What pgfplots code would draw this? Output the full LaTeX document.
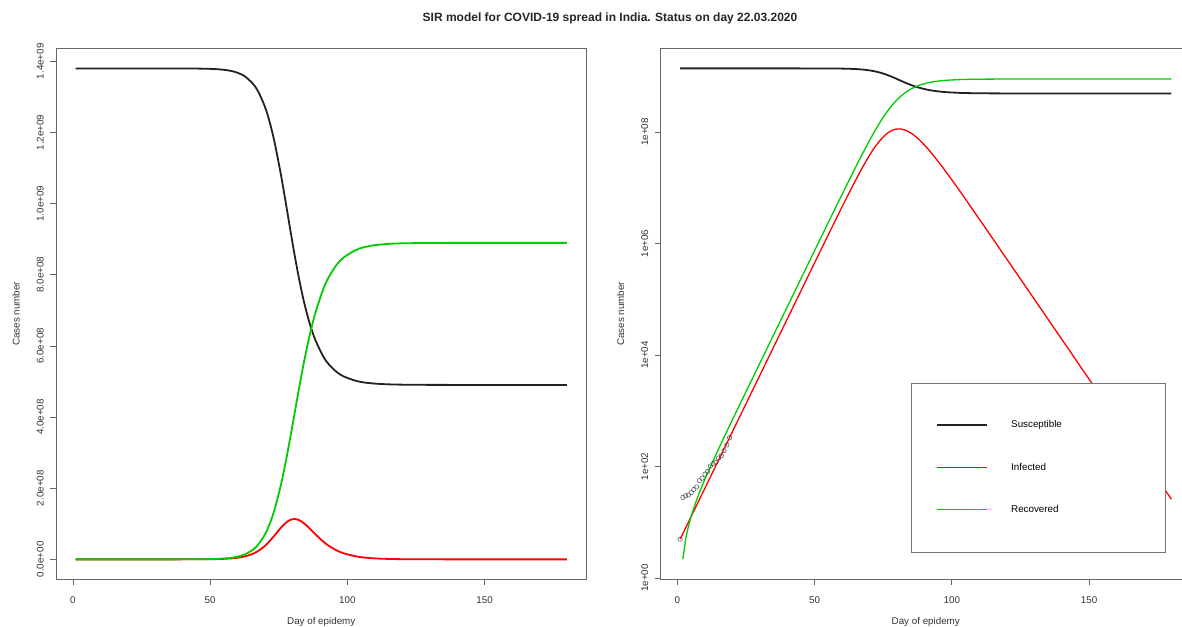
\documentclass[border=0pt]{standalone}
\usepackage{pgfplots}
\pgfplotsset{compat=1.18}
\usepackage{pgfplotstable}
\usepackage{fontspec}
\setmainfont{Liberation Sans}
\definecolor{rgreen}{HTML}{00CD00}
\definecolor{rred}{HTML}{FF0000}
\definecolor{rblack}{HTML}{222222}
\pgfplotstableread{
t S I R
1 1.38e9 5 0
2 1.38e9 6.31 2.17
3 1.38e9 7.97 4.91
4 1.38e9 10.06 8.36
5 1.38e9 12.70 12.72
7 1.38e9 20.22 25.17
10 1.38e9 40.68 58.98
15 1.38e9 130.3 207.1
20 1.38e9 417.6 682.0
25 1.37999e9 1338 2203
30 1.37999e9 4287 7078
35 1.37996e9 13731 22689
40 1.37988e9 43995 72716
45 1.37963e9 1.4095e5 2.3298e5
50 1.37880e9 4.5155e5 7.4640e5
52.64 1.37779e9 8.331e5 1.38e6
55 1.37617e9 1.4416e6 2.391e6
57.38 1.37337e9 2.489e6 4.14e6
59.59 1.36897e9 4.130e6 6.9e6
62.61 1.35803e9 8.172e6 1.38e7
65.68 1.33641e9 1.5995e7 2.76e7
67.52 1.31513e9 2.347e7 4.14e7
69.91 1.27358e9 3.742e7 6.9e7
71.56 1.23334e9 5.006e7 9.66e7
73.41 1.17537e9 6.663e7 1.38e8
75.72 1.08474e9 8.826e7 2.07e8
77.60 1.00108e9 1.0292e8 2.76e8
79.27 9.2387e8 1.1113e8 3.45e8
80.86 8.5262e8 1.1338e8 4.14e8
82.46 7.8685e8 1.1015e8 4.83e8
84.14 7.2621e8 1.0179e8 5.52e8
86.02 6.7019e8 8.881e7 6.21e8
88.25 6.1850e8 7.150e7 6.90e8
91.20 5.7081e8 5.019e7 7.59e8
93.24 5.4836e8 3.814e7 7.935e8
96.10 5.2678e8 2.522e7 8.28e8
98.68 5.1427e8 1.703e7 8.487e8
103.05 5.0204e8 8.556e6 8.694e8
106 4.974e8 5.28e6 8.773e8
110 4.941e8 2.74e6 8.832e8
115 4.920e8 1.204e6 8.868e8
120 4.911e8 5.28e5 8.884e8
130 4.905e8 1.013e5 8.894e8
140 4.904e8 1.94e4 8.896e8
150 4.904e8 3710 8.896e8
160 4.904e8 710 8.896e8
170 4.904e8 136 8.896e8
180 4.904e8 26.0 8.896e8
}\model
\pgfplotstableread{
t C
1 5
2 28
3 30
4 31
5 34
6 39
7 43
8 56
9 62
10 73
11 82
12 102
13 113
14 119
15 142
16 156
17 194
18 244
19 330
}\obs
\pgfplotsset{
  rstyle/.style={
    scale only axis, width=530.5pt, height=530.2pt,
    xmin=-6.16, xmax=187.16,
    axis line style={black!60, line width=0.8pt},
    tick align=outside, major tick length=6pt,
    tick style={black!60, line width=0.8pt},
    tick pos=left,
    xtick={0,50,100,150},
    minor tick num=0,
    scaled y ticks=false,
    /pgf/number format/assume math mode=true,
    tick label style={font=\fontsize{9.8}{11}\selectfont, text=black!80},
    label style={font=\fontsize{9.8}{11}\selectfont, text=black!80},
    xticklabel style={anchor=center, yshift=-15pt},
    yticklabel style={xshift=-9.8pt, rotate=90, anchor=center},
    xlabel={Day of epidemy}, ylabel={Cases number},
    xlabel style={at={(axis description cs:0.5,-0.0811)}, anchor=center},
    ylabel style={at={(axis description cs:-0.0754,0.5)}, anchor=center},
  }
}
\begin{document}
\begin{tikzpicture}
\useasboundingbox (0pt,0pt) rectangle (1182pt,626pt);
\clip (0pt,0pt) rectangle (1182pt,626pt);
\node[font=\fontsize{12}{14}\selectfont\bfseries, text=black!85] at (610pt,608pt) {SIR model for COVID-19 spread in India. Status on day 22.03.2020};
\begin{axis}[rstyle, at={(56pt,47pt)}, anchor=south west,
  ymin=-5.52e7, ymax=1.4352e9,
  ytick={0,2e8,4e8,6e8,8e8,1e9,1.2e9,1.4e9},
  yticklabels={0.0e+00,2.0e+08,4.0e+08,6.0e+08,8.0e+08,1.0e+09,1.2e+09,1.4e+09}]
\addplot[rblack, line width=1.8pt, smooth] table[x=t,y=S]{\model};
\addplot[rred, line width=1.8pt, smooth] table[x=t,y=I]{\model};
\addplot[rgreen, line width=1.8pt, smooth] table[x=t,y=R]{\model};
\end{axis}
\begin{axis}[rstyle, at={(660.5pt,47pt)}, anchor=south west,
  ymode=log, ymin=0.964, ymax=3.1e9,
  ytick={1,100,10000,1000000,100000000},
  yticklabels={1e+00,1e+02,1e+04,1e+06,1e+08}]
\addplot[rblack, line width=1.8pt, smooth] table[x=t,y=S]{\model};
\addplot[rred, line width=1.3pt, smooth] table[x=t,y=I]{\model};
\addplot[rgreen, line width=1.3pt, smooth, skip coords between index={0}{1}] table[x=t,y=R]{\model};
\addplot[only marks, mark=o, mark size=2.2pt, black!70, mark options={line width=0.5pt}] table[x=t,y=C]{\obs};
% legend (R style box)
\draw[black!55, line width=0.7pt, fill=white] (axis description cs:0.4735,0.0496) rectangle (axis description cs:0.951,0.3691);
\draw[rblack, line width=1.8pt] (axis description cs:0.5212,0.2905) -- (axis description cs:0.6155,0.2905);
\draw[rred, line width=1.3pt] (axis description cs:0.5212,0.2107) -- (axis description cs:0.6155,0.2107);
\draw[rgreen, line width=1.3pt] (axis description cs:0.5212,0.1315) -- (axis description cs:0.6155,0.1315);
\node[anchor=west, inner sep=0pt, font=\fontsize{9.8}{11}\selectfont] at (axis description cs:0.6607,0.2905) {Susceptible};
\node[anchor=west, inner sep=0pt, font=\fontsize{9.8}{11}\selectfont] at (axis description cs:0.6607,0.2107) {Infected};
\node[anchor=west, inner sep=0pt, font=\fontsize{9.8}{11}\selectfont] at (axis description cs:0.6607,0.1315) {Recovered};
\end{axis}
\end{tikzpicture}
\end{document}
